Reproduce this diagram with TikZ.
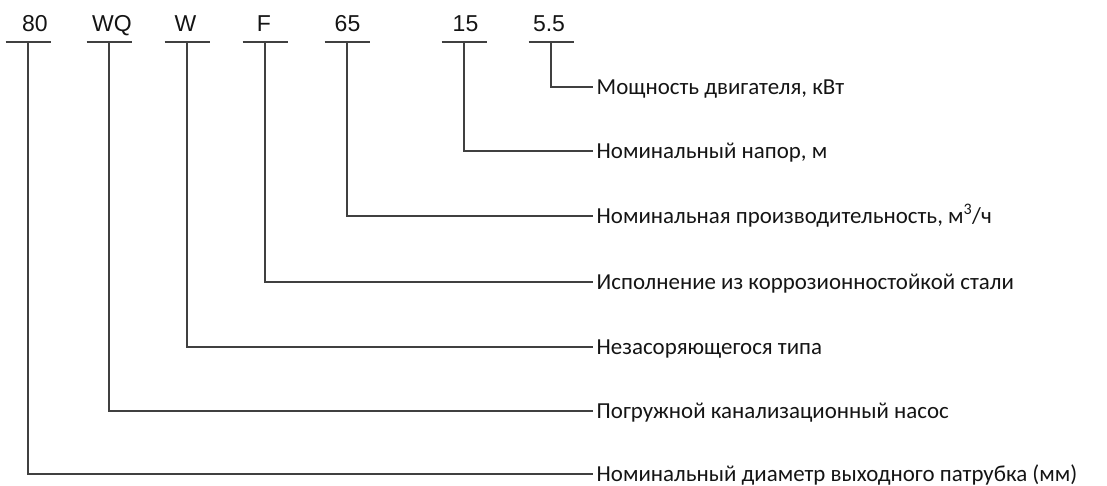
\documentclass[tikz,border=0pt]{standalone}
\usepackage{fontspec}
\setmainfont{Carlito}
\newfontfamily\numfont{Liberation Sans}
\usetikzlibrary{calc}
\definecolor{linegray}{HTML}{404040}
\definecolor{txt}{HTML}{141414}
\begin{document}
\begin{tikzpicture}[x=1pt,y=-1pt,
  ln/.style={draw=linegray, line width=1.7pt, line cap=butt},
  code/.style={font=\numfont\fontsize{23}{23}\selectfont, text=txt, anchor=base, inner sep=0pt},
  desc/.style={font=\fontsize{22.9}{23}\selectfont, text=txt, anchor=west, inner xsep=3.5pt, inner ysep=0pt, text height=14.7pt, text depth=0pt}]
\useasboundingbox (0,0) rectangle (1107,486);
% code labels
\node[code] (t80) at (35,32) {80};
\node[code] (tWQ) at (112,32) {WQ};
\node[code] (tW) at (185.5,32) {W};
\node[code] (tF) at (264,32) {F};
\node[code] (t65) at (347.5,32) {65};
\node[code] (t15) at (465.5,32) {15};
\node[code] (t55) at (549,32) {5.5};
% bar centres
\coordinate (b80) at (28,42);
\coordinate (bWQ) at (109,42);
\coordinate (bW) at (187,42);
\coordinate (bF) at (265,42);
\coordinate (b65) at (347,42);
\coordinate (b15) at (464,42);
\coordinate (b55) at (551,42);
\foreach \b in {b80,bWQ,bW,bF,b65,b15,b55}
  \draw[ln] ($(\b)+(-22.5,0)$) -- ($(\b)+(22.5,0)$);
% descriptions
\node[desc] (d55) at (593,87) {Мощность двигателя, кВт};
\node[desc] (d15) at (593,151) {Номинальный напор, м};
\node[desc] (d65) at (593,216) {Номинальная производительность, м\textsuperscript{3}/ч};
\node[desc] (dF) at (593,282) {Исполнение из коррозионностойкой стали};
\node[desc] (dW) at (593,347) {Незасоряющегося типа};
\node[desc] (dWQ) at (593,411) {Погружной канализационный насос};
\node[desc] (d80) at (593,474) {Номинальный диаметр выходного патрубка (мм)};
% connectors
\draw[ln] (b55) |- (d55.west);
\draw[ln] (b15) |- (d15.west);
\draw[ln] (b65) |- (d65.west);
\draw[ln] (bF) |- (dF.west);
\draw[ln] (bW) |- (dW.west);
\draw[ln] (bWQ) |- (dWQ.west);
\draw[ln] (b80) |- (d80.west);
\end{tikzpicture}
\end{document}
